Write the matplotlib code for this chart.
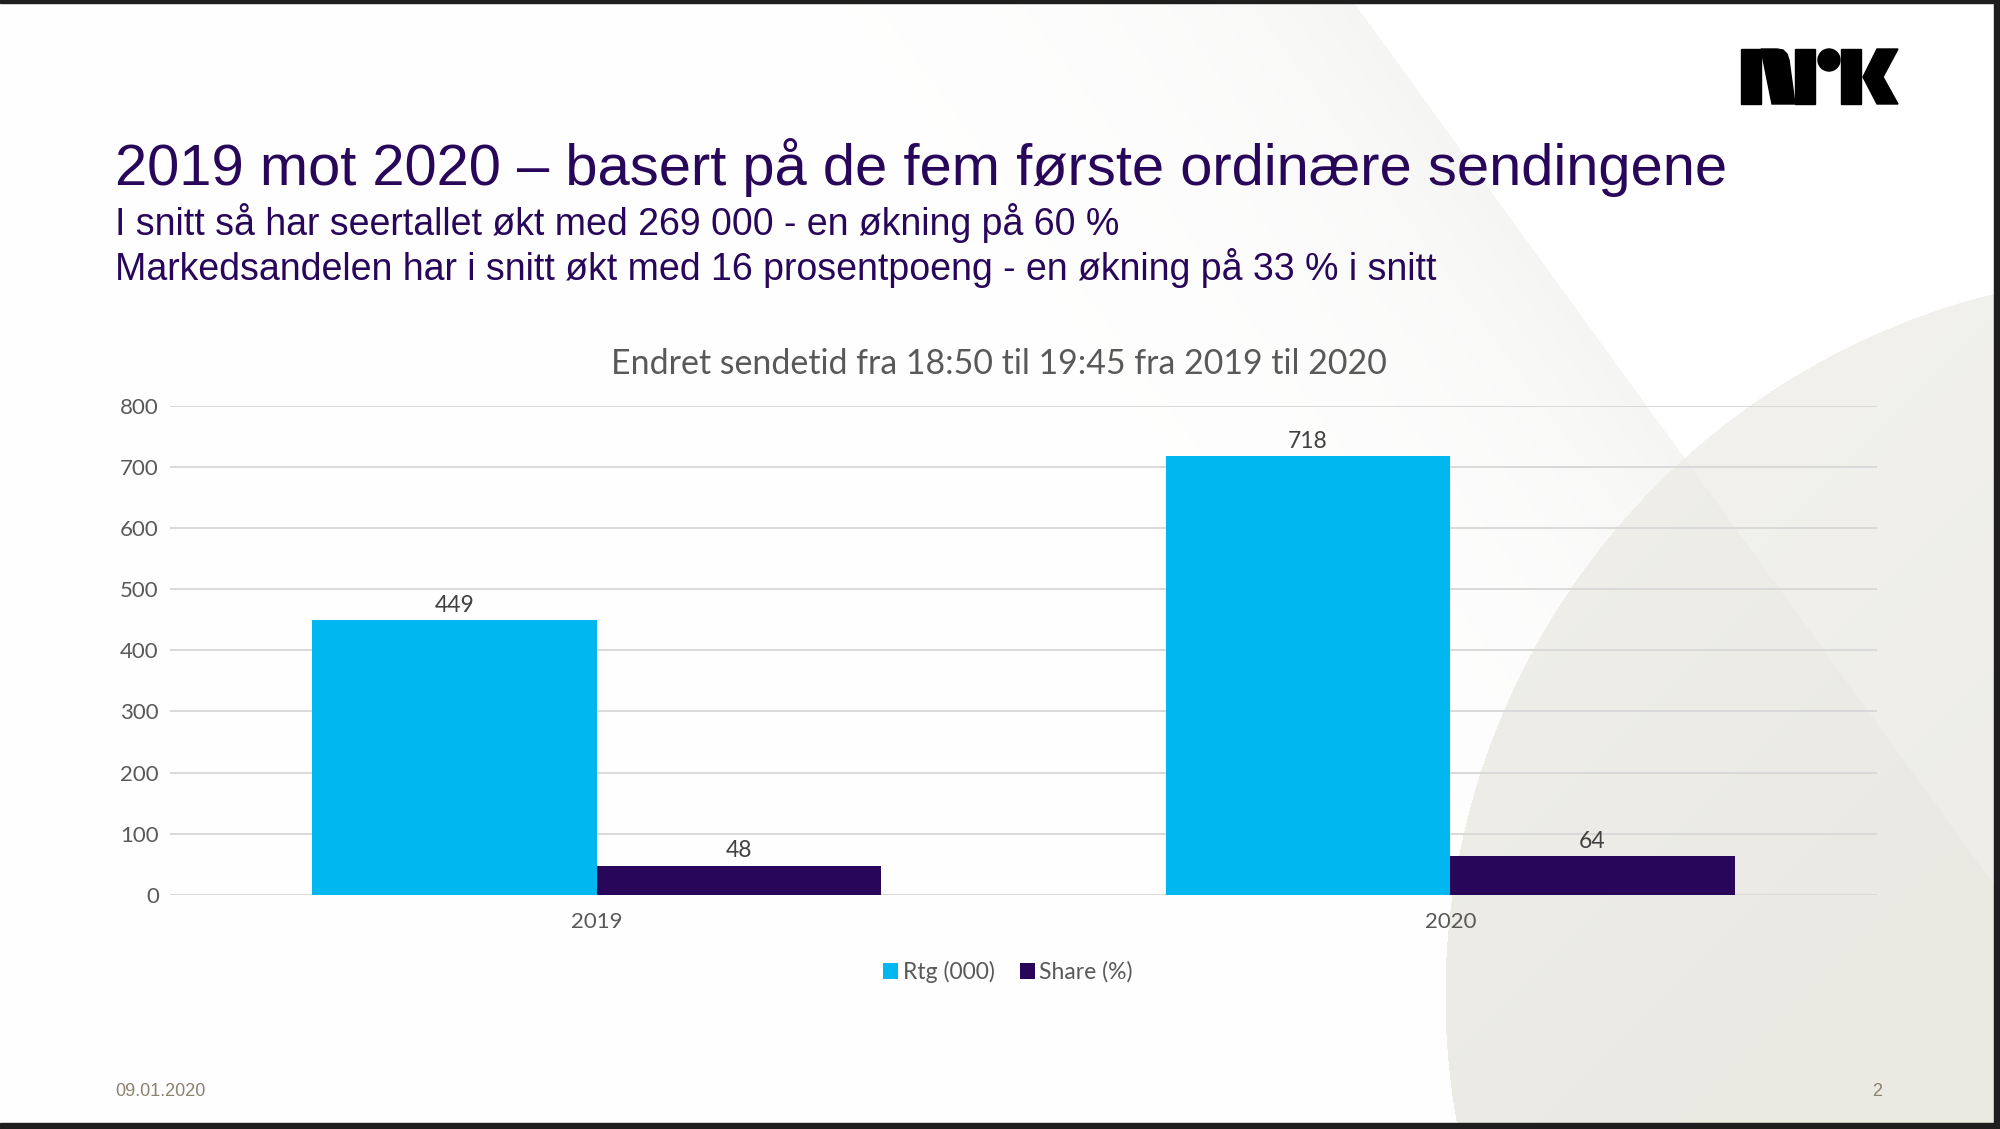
import numpy as np
import matplotlib
matplotlib.use("Agg")
import matplotlib.pyplot as plt
from matplotlib.patches import Rectangle, Polygon, Circle

# data
kategorier = ["2019", "2020"]
rtg = [449, 718]
share = [48, 64]
serier = ["Rtg (000)", "Share (%)"]
y_ticks = [0, 100, 200, 300, 400, 500, 600, 700, 800]

tittel = "2019 mot 2020 \u2013 basert p\u00e5 de fem f\u00f8rste ordin\u00e6re sendingene"
undertittel = [
    "I snitt s\u00e5 har seertallet \u00f8kt med 269 000 - en \u00f8kning p\u00e5 60 %",
    "Markedsandelen har i snitt \u00f8kt med 16 prosentpoeng - en \u00f8kning p\u00e5 33 % i snitt",
]
graf_tittel = "Endret sendetid fra 18:50 til 19:45 fra 2019 til 2020"
dato = "09.01.2020"
side = "2"

CYAN = "#00b8ef"
LILLA = "#28065a"
GRAA = "#595959"

W, H = 2000, 1129
fig = plt.figure(figsize=(20, 11.29), dpi=100)

# bakgrunn (lysegraa former som i lysbildet)
bg = fig.add_axes([0, 0, 1, 1])
bg.set_xlim(0, W)
bg.set_ylim(H, 0)
bg.axis("off")

yy, xx = np.mgrid[0:H, 0:W].astype(float)
img = np.ones((H, W, 3))
grey = np.array([0.918, 0.914, 0.89])

# fold-linje
d = ((xx - 1352) * (-893) + yy * 648) / 1103.0
fold = np.where(d > 0, 0.55 * np.exp(-d / 170.0), 0.0)
fold_col = np.array([0.93, 0.93, 0.92])
for c in range(3):
    img[..., c] = 1 - (1 - fold_col[c]) * fold

# sirkel
cx, cy, R = 2168, 995, 723
inne = (xx - cx) ** 2 + (yy - cy) ** 2 < R ** 2
s = np.clip((xx + yy - 1900) / 900.0, 0, 1)
k = 0.72 + 0.28 * s
k = np.where(d < 0, k * 0.8, k)
for c in range(3):
    sirkel = 1 - (1 - grey[c]) * k
    img[..., c] = np.where(inne, sirkel, img[..., c])

bg.imshow(img, extent=[0, W, H, 0], aspect="auto", zorder=0, interpolation="bilinear")

# ramme
bg.add_patch(Rectangle((0, 0), W, 3, color="#1e1e1e", zorder=5))
bg.add_patch(Rectangle((W - 6, 0), 6, H, color="#1e1e1e", zorder=5))
bg.add_patch(Rectangle((0, H - 6), W, 6, color="#1e1e1e", zorder=5))

# NRK-logo
svart = "black"
bg.add_patch(Rectangle((1741, 49), 20, 55, color=svart, zorder=3))
bg.add_patch(Polygon([(1761, 49), (1777, 49), (1783, 50), (1787, 54), (1789, 60),
                      (1795, 104), (1772, 104)], closed=True, color=svart, zorder=3))
bg.add_patch(Rectangle((1795, 49), 20, 55, color=svart, zorder=3))
bg.add_patch(Circle((1829, 60), 11, color=svart, zorder=3))
bg.add_patch(Rectangle((1841, 49), 20, 55, color=svart, zorder=3))
bg.add_patch(Polygon([(1863, 77), (1877, 49), (1898, 49), (1883, 77), (1898, 104),
                      (1877, 104)], closed=True, color=svart, zorder=3))

# tekster
fig.text(115 / W, 1 - 185 / H, tittel, fontsize=41.7, color=LILLA,
         family="Liberation Sans", va="baseline", ha="left")
fig.text(115 / W, 1 - 235 / H, undertittel[0], fontsize=27, color=LILLA,
         family="Liberation Sans", va="baseline", ha="left")
fig.text(115 / W, 1 - 280 / H, undertittel[1], fontsize=27, color=LILLA,
         family="Liberation Sans", va="baseline", ha="left")
fig.text(999 / W, 1 - 364 / H, graf_tittel, fontsize=24.4, color=GRAA,
         family="Lato", va="center", ha="center")
fig.text(115 / W, 1 - 1092 / H, dato, fontsize=13, color="#8c8270",
         family="Liberation Sans", va="center", ha="left")
fig.text(1877 / W, 1 - 1092 / H, side, fontsize=13, color="#8c8270",
         family="Liberation Sans", va="center", ha="center")

# diagram
ax = fig.add_axes([170 / W, 1 - 895 / H, (1877 - 170) / W, (895 - 405.6) / H])
ax.set_facecolor("none")
x = np.arange(len(kategorier))
b = 1 / 3
s1 = ax.bar(x - b / 2, rtg, width=b, color=CYAN, label=serier[0], zorder=3)
s2 = ax.bar(x + b / 2, share, width=b, color=LILLA, label=serier[1], zorder=3)

for bars in (s1, s2):
    for r in bars:
        ax.annotate(f"{int(r.get_height())}", (r.get_x() + r.get_width() / 2, r.get_height()),
                    xytext=(0, 3), textcoords="offset points", ha="center", va="bottom",
                    fontsize=16.5, color="#404040", family="Lato")

ax.set_xlim(-0.5, 1.5)
ax.set_ylim(0, 800)
ax.set_yticks(y_ticks)
ax.set_xticks(x)
ax.set_xticklabels(kategorier)
ax.yaxis.grid(True, color="#d9d9d9", lw=1.4, zorder=0)
ax.set_axisbelow(True)
for sp in ax.spines.values():
    sp.set_visible(False)
ax.tick_params(axis="both", length=0, labelsize=16, labelcolor=GRAA)
ax.tick_params(axis="y", pad=8)
ax.tick_params(axis="x", pad=12)
for t in ax.get_xticklabels() + ax.get_yticklabels():
    t.set_family("Lato")

leg = fig.legend(handles=[s1, s2], labels=serier, loc="center",
                 bbox_to_anchor=(1008 / W, 1 - 972 / H), ncol=2, frameon=False,
                 handlelength=0.65, handleheight=0.65, handletextpad=0.2,
                 columnspacing=1.1, prop={"family": "Lato", "size": 16.5})
for t in leg.get_texts():
    t.set_color(GRAA)

fig.savefig("out.png", dpi=100)
